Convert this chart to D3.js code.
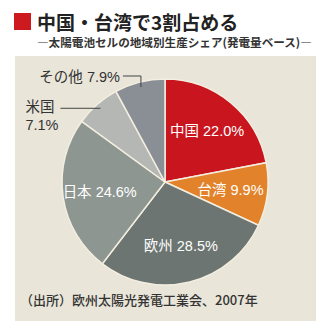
<!DOCTYPE html>
<html>
<head>
<meta charset="utf-8">
<script src="https://cdn.jsdelivr.net/npm/d3@7"></script>
<style>
  html, body { margin: 0; padding: 0; background: #fff; }
  svg { display: block; font-family: "Noto Sans CJK JP", "Noto Sans", sans-serif; }
  .lbl { font-family: "Liberation Sans", "Noto Sans CJK JP", sans-serif; }
</style>
</head>
<body>
<svg id="chart" width="330" height="333"></svg>
<script>
// Regional share of solar cell production (by output), 2007
const regions = ["中国", "台湾", "欧州", "日本", "米国", "その他"];
const shares = [22.0, 9.9, 28.5, 24.6, 7.1, 7.9];
const sliceColors = ["#c9161e", "#e2822a", "#6c7571", "#8e9691", "#b4b7b3", "#8a8f96"];

const title = "中国・台湾で3割占める";
const subtitle = "―太陽電池セルの地域別生産シェア(発電量ベース)―";
const source = "（出所）欧州太陽光発電工業会、2007年";

const svg = d3.select("#chart");

// header
svg.append("rect").attr("x", 14).attr("y", 13).attr("width", 17).attr("height", 17)
  .attr("fill", "#cc1a1f");
svg.append("text").attr("x", 37).attr("y", 30)
  .attr("font-size", 19).attr("font-weight", 700).attr("fill", "#222")
  .text(title);
svg.append("text").attr("x", 37).attr("y", 47)
  .attr("font-size", 11.6).attr("font-weight", 700).attr("fill", "#333")
  .text(subtitle);

// panel
svg.append("rect").attr("x", 15).attr("y", 56).attr("width", 301).attr("height", 265)
  .attr("fill", "#e9e5d9");

const cx = 165, cy = 182, R = 103;
const g = svg.append("g").attr("transform", `translate(${cx},${cy})`);

const data = regions.map((r, i) => ({ region: r, value: shares[i], color: sliceColors[i] }));
const pie = d3.pie().value(d => d.value).sort(null);
const arcs = pie(data);
const arc = d3.arc().innerRadius(0).outerRadius(R);

g.selectAll("path.slice").data(arcs).join("path")
  .attr("class", "slice")
  .attr("d", arc)
  .attr("fill", d => d.data.color)
  .attr("stroke", "#f3eedf")
  .attr("stroke-width", 1.5);

const labelSize = 14.5;
const fmt = v => v.toFixed(1) + "%";

// labels inside the large slices
const inner = d3.arc().innerRadius(66).outerRadius(66);
[0, 1, 2, 3].forEach(i => {
  const a = arcs[i];
  const [x, y] = inner.centroid(a);
  g.append("text")
    .attr("class", "lbl")
    .attr("x", x).attr("y", y + 5)
    .attr("text-anchor", "middle")
    .attr("font-size", labelSize)
    .attr("fill", "#fff")
    .text(`${a.data.region} ${fmt(a.data.value)}`);
});

// leaders for the small slices
const edge = d3.arc().innerRadius(98).outerRadius(98);

// 米国
{
  const a = arcs[4];
  const [x, y] = edge.centroid(a);
  g.append("path")
    .attr("d", `M${x},${y}H${x - 40}`)
    .attr("stroke", "#444").attr("stroke-width", 1).attr("fill", "none");
  g.append("text").attr("class", "lbl").attr("x", x - 75).attr("y", y + 4)
    .attr("font-size", labelSize).attr("fill", "#333").text(a.data.region);
  g.append("text").attr("class", "lbl").attr("x", x - 75).attr("y", y + 22)
    .attr("font-size", labelSize).attr("fill", "#333").text(fmt(a.data.value));
}
// その他
{
  const a = arcs[5];
  const [x, y] = edge.centroid(a);
  g.append("path")
    .attr("d", `M${x},${y}V${y - 11}H${x - 18}`)
    .attr("stroke", "#444").attr("stroke-width", 1).attr("fill", "none");
  g.append("text").attr("class", "lbl").attr("x", x - 21).attr("y", y - 5)
    .attr("text-anchor", "end")
    .attr("font-size", labelSize).attr("fill", "#333")
    .text(`${a.data.region} ${fmt(a.data.value)}`);
}

// source note
svg.append("text").attr("x", 20).attr("y", 305)
  .attr("font-size", 13).attr("font-weight", 500).attr("fill", "#333")
  .text(source);
</script>
</body>
</html>
